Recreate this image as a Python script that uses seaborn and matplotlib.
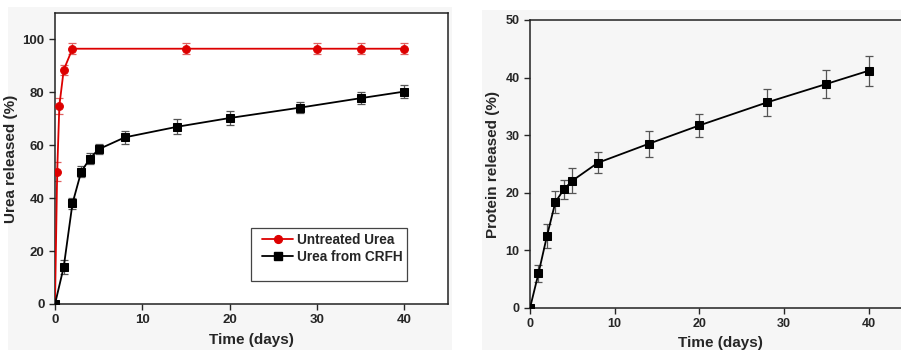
import numpy as np
import pandas as pd
import matplotlib
matplotlib.use("Agg")
import matplotlib.pyplot as plt
from matplotlib.patches import Rectangle
from matplotlib.lines import Line2D
import seaborn as sns

sns.set_style("ticks")
plt.rcParams['font.family'] = ['Liberation Sans', 'DejaVu Sans']
plt.rcParams['font.weight'] = 'bold'

# Left panel data
untreated_days = [0, 0.25, 0.5, 1, 2, 15, 30, 35, 40]
untreated_rel = [0, 50, 75, 88.5, 96.5, 96.5, 96.5, 96.5, 96.5]
untreated_err = [0, 3.5, 3, 2, 2, 2, 2, 2, 2]

crfh_days = [0, 1, 2, 3, 4, 5, 8, 14, 20, 28, 35, 40]
crfh_rel = [0, 14, 38, 50, 55, 58.5, 63, 67, 70.3, 74.2, 77.8, 80.3]
crfh_err = [0, 2.5, 2, 2, 2, 1.8, 2.5, 2.8, 2.5, 2, 2.3, 2.5]

# Right panel data
protein_days = [0, 1, 2, 3, 4, 5, 8, 14, 20, 28, 35, 40]
protein_rel = [0, 6, 12.5, 18.4, 20.6, 22.1, 25.2, 28.5, 31.7, 35.7, 38.9, 41.2]
protein_err = [0, 1.5, 2.0, 1.9, 1.7, 2.2, 1.8, 2.3, 2.0, 2.4, 2.5, 2.6]

W, H = 901, 350
fig = plt.figure(figsize=(W / 100, H / 100), dpi=100)
fig.patch.set_facecolor('white')
# light gray backdrop of the two source images
fig.patches.append(Rectangle((8 / W, 0), (452 - 8) / W, 1 - 7 / H, transform=fig.transFigure,
                             facecolor='#f6f6f6', edgecolor='none', zorder=-10))
fig.patches.append(Rectangle((482 / W, 0), 1, 1 - 10 / H, transform=fig.transFigure,
                             facecolor='#f6f6f6', edgecolor='none', zorder=-10))

red = '#dd0000'
ms = 5.6

# ---------- Left panel ----------
ax1 = fig.add_axes([55 / W, 1 - 304 / H, (448 - 55) / W, (304 - 13) / H])
ax1.set_facecolor('white')
ax1.errorbar(untreated_days, untreated_rel, yerr=untreated_err, fmt='none',
             ecolor='#e06060', elinewidth=0.9, capsize=3, capthick=0.9, zorder=2)
ax1.errorbar(crfh_days, crfh_rel, yerr=crfh_err, fmt='none',
             ecolor='#555555', elinewidth=0.9, capsize=3, capthick=0.9, zorder=2)
df_u = pd.DataFrame({'t': untreated_days, 'y': untreated_rel})
df_c = pd.DataFrame({'t': crfh_days, 'y': crfh_rel})
sns.lineplot(data=df_u, x='t', y='y', ax=ax1, color=red, marker='o', markersize=ms,
             markeredgecolor=red, linewidth=1.3, zorder=3)
sns.lineplot(data=df_c, x='t', y='y', ax=ax1, color='black', marker='s', markersize=ms,
             markeredgecolor='black', linewidth=1.3, zorder=3)
ax1.set_xlim(0, 45)
ax1.set_ylim(0, 110)
ax1.set_xticks([0, 10, 20, 30, 40])
ax1.set_yticks([0, 20, 40, 60, 80, 100])
ax1.set_xlabel('Time (days)', fontsize=11, fontweight='bold', labelpad=5)
ax1.set_ylabel('Urea released (%)', fontsize=11, fontweight='bold', labelpad=3)
ax1.tick_params(labelsize=9.5, width=1, length=4, direction='out')
for lab in ax1.get_xticklabels() + ax1.get_yticklabels():
    lab.set_fontweight('bold')
for s in ax1.spines.values():
    s.set_linewidth(1.1)
    s.set_color('#222222')

# legend frame
ax1.add_patch(Rectangle((0.499, 0.079), 0.397, 0.182, transform=ax1.transAxes,
                        facecolor='white', edgecolor='#444444', linewidth=0.9, zorder=5))
handles = [Line2D([], [], color=red, marker='o', markersize=ms, linewidth=1.3),
           Line2D([], [], color='black', marker='s', markersize=ms, linewidth=1.3)]
leg = ax1.legend(handles, ['Untreated Urea', 'Urea from CRFH'], loc='upper left',
                 bbox_to_anchor=(0.527, 0.245), frameon=False,
                 handlelength=2.3, handletextpad=0.3, labelspacing=0.25,
                 borderpad=0, borderaxespad=0, prop={'weight': 'bold', 'size': 9.8})
leg.set_zorder(6)

# ---------- Right panel ----------
ax2 = fig.add_axes([530 / W, 1 - 308 / H, 45 * 8.47 / W, (308 - 20) / H])
ax2.set_facecolor('#f6f6f6')
ax2.errorbar(protein_days, protein_rel, yerr=protein_err, fmt='none',
             ecolor='#555555', elinewidth=0.9, capsize=3, capthick=0.9, zorder=2)
df_p = pd.DataFrame({'t': protein_days, 'y': protein_rel})
sns.lineplot(data=df_p, x='t', y='y', ax=ax2, color='black', marker='s', markersize=ms,
             markeredgecolor='black', linewidth=1.3, zorder=3)
ax2.set_xlim(0, 45)
ax2.set_ylim(0, 50)
ax2.set_xticks([0, 10, 20, 30, 40])
ax2.set_yticks([0, 10, 20, 30, 40, 50])
ax2.set_xlabel('Time (days)', fontsize=11, fontweight='bold', labelpad=4)
ax2.set_ylabel('Protein released (%)', fontsize=11, fontweight='bold', labelpad=4)
ax2.tick_params(labelsize=9, width=1, length=4, direction='out')
for lab in ax2.get_xticklabels() + ax2.get_yticklabels():
    lab.set_fontweight('bold')
for s in ax2.spines.values():
    s.set_linewidth(1.1)
    s.set_color('#222222')

fig.savefig('out.png', dpi=100)
